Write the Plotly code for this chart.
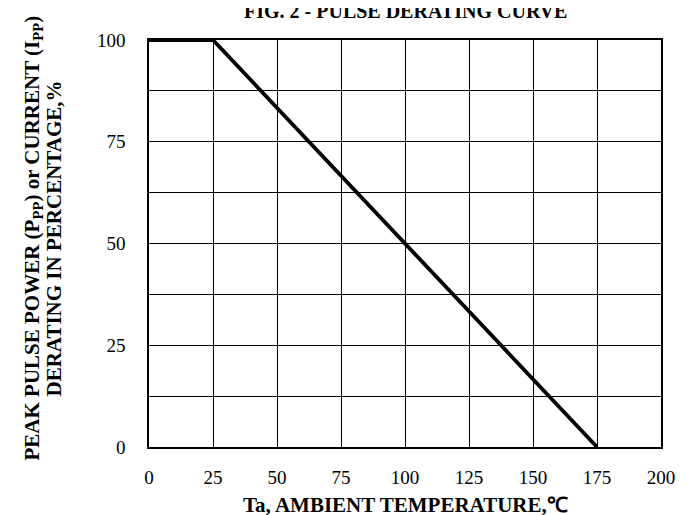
import plotly.graph_objects as go

temp = [0, 25, 175]
derating = [100, 100, 0]
x_ticks = [0, 25, 50, 75, 100, 125, 150, 175, 200]
y_grid = [0, 12.5, 25, 37.5, 50, 62.5, 75, 87.5, 100]
y_labels = ["0", "", "25", "", "50", "", "75", "", "100"]

FONT = "Liberation Serif"

fig = go.Figure()
fig.add_trace(go.Scatter(x=temp, y=derating, mode="lines",
                         line=dict(color="black", width=3.8), showlegend=False))

fig.update_layout(
    width=691, height=515,
    margin=dict(l=141, r=38, t=32, b=76),
    plot_bgcolor="white", paper_bgcolor="white",
    font=dict(family=FONT, color="black", size=20),
    xaxis=dict(range=[0, 200], tickvals=x_ticks, ticktext=[str(v) for v in x_ticks],
               showgrid=True, gridcolor="black", gridwidth=1,
               showline=True, linecolor="black", linewidth=1.5, mirror=True,
               zeroline=False, ticks="", ticklabelstandoff=12,
               tickfont=dict(family=FONT, size=19)),
    yaxis=dict(range=[0, 100], tickvals=y_grid, ticktext=y_labels,
               showgrid=True, gridcolor="black", gridwidth=1,
               showline=True, linecolor="black", linewidth=1.5, mirror=True,
               zeroline=False, ticks="", ticklabelstandoff=18,
               tickfont=dict(family=FONT, size=19)),
    annotations=[
        dict(text="<b>FIG. 2 - PULSE DERATING CURVE</b>", xref="paper", yref="paper",
             x=0.5, y=1, yshift=29, xanchor="center", yanchor="middle",
             showarrow=False, font=dict(family=FONT, size=20)),
        dict(text="<b>Ta, AMBIENT TEMPERATURE,℃</b>", xref="paper", yref="paper",
             x=0.5, y=0, yshift=-58, xanchor="center", yanchor="middle",
             showarrow=False, font=dict(family=FONT, size=21)),
        dict(text="<b>PEAK PULSE POWER (P<sub>PP</sub>) or CURRENT (I<sub>PP</sub>)</b>",
             xref="paper", yref="paper", x=0, y=0.5, xshift=-117, yshift=5,
             xanchor="center", yanchor="middle", textangle=-90,
             showarrow=False, font=dict(family=FONT, size=21)),
        dict(text="<b>DERATING IN PERCENTAGE,%</b>",
             xref="paper", yref="paper", x=0, y=0.5, xshift=-96, yshift=5,
             xanchor="center", yanchor="middle", textangle=-90,
             showarrow=False, font=dict(family=FONT, size=21)),
    ],
)

fig.write_html("out.html")
